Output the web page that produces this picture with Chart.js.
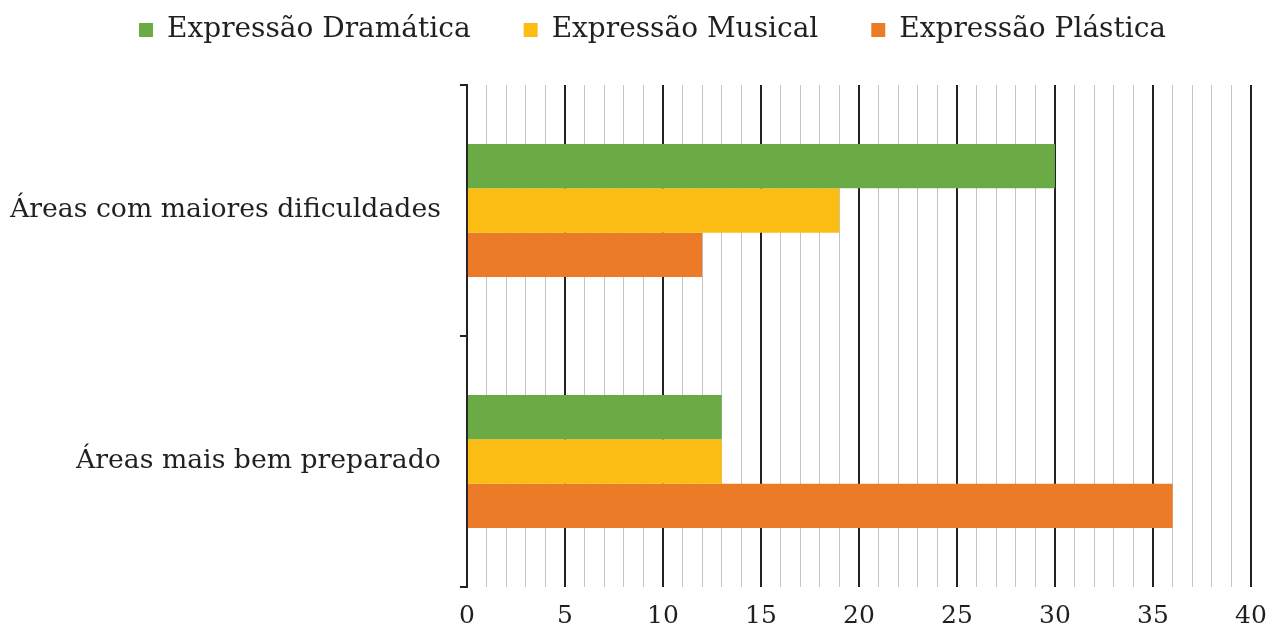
<!DOCTYPE html>
<html>
<head>
<meta charset="utf-8">
<script src="https://cdn.jsdelivr.net/npm/chart.js@4/dist/chart.umd.min.js"></script>
<style>
  html, body { margin: 0; padding: 0; background: #fff; }
  #wrap { width: 1270px; height: 630px; }
</style>
</head>
<body>
<div id="wrap"><canvas id="chart" width="1270" height="630"></canvas></div>
<script>
const categories = ['Áreas com maiores dificuldades', 'Áreas mais bem preparado'];
const dramatica = [30, 13];
const musical = [19, 13];
const plastica = [12, 36];
const seriesNames = ['Expressão Dramática', 'Expressão Musical', 'Expressão Plástica'];
const seriesColors = ['#6aab45', '#fbbd14', '#ec7b27'];

const FONT = "'DejaVu Serif', serif";
const TEXT = '#231f20';

// push the plot down below the legend, and nudge the legend row right a bit
const legendSpacing = {
    id: 'legendSpacing',
    beforeInit(chart) {
        const origFit = chart.legend.fit;
        chart.legend.fit = function () {
            origFit.bind(this)();
            this.height += 31;
        };
    },
    afterLayout(chart) {
        chart.legend.left += 22;
        chart.legend.right += 22;
    }
};

const ctx = document.getElementById('chart').getContext('2d');
new Chart(ctx, {
    type: 'bar',
    data: {
        labels: categories,
        datasets: [dramatica, musical, plastica].map((vals, i) => ({
            label: seriesNames[i],
            data: vals,
            backgroundColor: seriesColors[i],
            borderWidth: 0,
            barPercentage: 1,
            categoryPercentage: 0.53
        }))
    },
    options: {
        indexAxis: 'y', // horizontal bars
        responsive: false,
        animation: false,
        layout: { padding: { left: -9, right: 0, top: -37, bottom: -15 } },
        plugins: {
            tooltip: { enabled: false },
            legend: {
                position: 'top',
                labels: {
                    color: TEXT,
                    font: { family: FONT, size: 28 },
                    boxWidth: 14,
                    boxHeight: 14,
                    padding: 53
                }
            }
        },
        scales: {
            x: {
                min: 0,
                max: 40,
                afterFit: (scale) => { scale.paddingRight = 19; },
                ticks: {
                    stepSize: 1,
                    autoSkip: false,
                    maxRotation: 0,
                    color: TEXT,
                    font: { family: FONT, size: 25 },
                    padding: 14,
                    callback: (v) => (v % 5 === 0 ? v : '')
                },
                grid: {
                    drawTicks: false,
                    color: (c) => (c.tick && c.tick.value % 5 === 0 ? '#222222' : '#c4c4c4'),
                    lineWidth: (c) => (c.tick && c.tick.value % 5 === 0 ? 2 : 1)
                },
                border: { display: false }
            },
            y: {
                ticks: {
                    color: TEXT,
                    font: { family: FONT, size: 26.7 },
                    padding: 19
                },
                grid: {
                    offset: true,
                    drawOnChartArea: false,
                    drawTicks: true,
                    tickLength: 7,
                    color: '#222222',
                    lineWidth: 2
                },
                border: { display: true, color: '#222222', width: 2 }
            }
        }
    },
    plugins: [legendSpacing]
});
</script>
</body>
</html>
